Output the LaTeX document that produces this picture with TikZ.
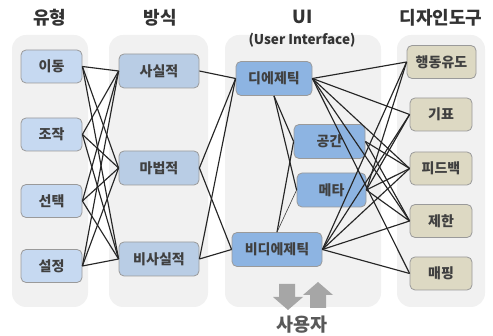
\documentclass[tikz,border=0pt]{standalone}
\usepackage{fontspec}
\setmainfont{Noto Sans CJK KR}
\definecolor{panel}{HTML}{F1F1F1}
\definecolor{typefill}{HTML}{C6D9F1}
\definecolor{wayfill}{HTML}{B9CDE5}
\definecolor{uifill}{HTML}{8DB4E2}
\definecolor{toolfill}{HTML}{DDD9C3}
\definecolor{edgegray}{HTML}{9A9A9A}
\definecolor{txt}{HTML}{404040}
\definecolor{ttl}{HTML}{333333}
\definecolor{usertxt}{HTML}{595959}
\definecolor{arrowgray}{HTML}{A6A6A6}
\tikzset{
  panelbox/.style={fill=panel, draw=none, rounded corners=14pt},
  box/.style={draw=edgegray, line width=0.8pt, rounded corners=5pt, inner sep=0pt,
    text=txt, font=\fontsize{14}{14}\selectfont\bfseries},
  typebox/.style={box, fill=typefill, minimum width=61pt, minimum height=33pt},
  waybox/.style={box, fill=wayfill, minimum width=80pt, minimum height=34pt},
  uibox/.style={box, fill=uifill, minimum height=34pt},
  toolbox/.style={box, fill=toolfill, minimum width=62pt, minimum height=33pt},
  title/.style={text=ttl, font=\fontsize{18}{18}\selectfont\bfseries, inner sep=0pt},
  link/.style={draw=black!85, line width=1.15pt},
  thinlink/.style={draw=black!75, line width=0.6pt},
  userarrow/.style={fill=arrowgray, draw=none}
}
\begin{document}
\begin{tikzpicture}[x=1pt, y=-1pt]
\useasboundingbox (0,0) rectangle (493,336);

% column panels
\fill[panelbox] (12,35) rectangle (88,307);
\fill[panelbox] (109,35) rectangle (208,307);
\fill[panelbox] (225,35) rectangle (381,307);
\fill[panelbox] (397,35) rectangle (485,307);

% column headings
\node[title] (h1) at (50,18) {유형};
\node[title] (h2) at (160,18) {방식};
\node[title] (h3) at (303,17) {UI};
\node[text=ttl, font=\fontsize{13.5}{13.5}\selectfont\bfseries, inner sep=0pt] (h3b) at (302,40) {(User Interface)};
\node[title] (h4) at (441,18) {디자인도구};

% interaction types
\node[typebox] (t1) at (51.5,66.5) {이동};
\node[typebox] (t2) at (51.5,134.5) {조작};
\node[typebox] (t3) at (51.5,201) {선택};
\node[typebox] (t4) at (51.5,266) {설정};

% ways
\node[waybox] (w1) at (159,71) {사실적};
\node[waybox] (w2) at (159,168) {마법적};
\node[waybox] (w3) at (159,259) {비사실적};

% UI kinds
\node[uibox, minimum width=76pt] (u1) at (274,78.5) {디에제틱};
\node[uibox, minimum width=71pt] (u2) at (329.5,141.5) {공간};
\node[uibox, minimum width=69pt] (u3) at (331.5,190) {메타};
\node[uibox, minimum width=90pt] (u4) at (277,249.5) {비디에제틱};

% design tools
\node[toolbox, minimum width=69pt] (d1) at (441.5,62) {행동유도};
\node[toolbox] (d2) at (441,114.5) {기표};
\node[toolbox] (d3) at (441,168.5) {피드백};
\node[toolbox] (d4) at (441,221) {제한};
\node[toolbox] (d5) at (441,273.5) {매핑};

% type -> way
\foreach \t in {t1,t2,t3,t4}
  \foreach \w in {w1,w2,w3}
    \draw[link] (\t.east) -- (\w.west);

% way -> UI
\draw[link] (w1.east) -- (u1.west);
\draw[link] (w2.east) -- (u1.west);
\draw[link] (w2.east) -- (u4.west);
\draw[link] (w3.east) -- (u1.west);
\draw[link] (w3.east) -- (u4.west);

% inside the UI column
\draw[link] (u1.south) -- (u2.west);
\draw[link] (u1.south) -- (u3.west);
\draw[link] (u4.north) -- (u2.west);
\draw[thinlink] (u4.north) -- (u3.west);

% UI -> design tools
\foreach \d in {d1,d2,d3,d4,d5} {
  \draw[link] (u1.east) -- (\d.west);
  \draw[link] (u4.east) -- (\d.west);
}
\draw[link] (u2.east) -- (d3.west);
\draw[link] (u2.east) -- (d4.west);
\foreach \d in {d1,d2,d3,d4}
  \draw[link] (u3.east) -- (\d.west);

% user feedback arrows: down (to the user) and up (from the user)
\fill[userarrow] (279,284) -- (295,284) -- (295,297) -- (303,297) -- (288,310)
  -- (273,297) -- (279,297) -- cycle;
\fill[userarrow] (310,308) -- (326,308) -- (326,295) -- (333,295) -- (318,282)
  -- (303,295) -- (310,295) -- cycle;
\node[text=usertxt, font=\fontsize{18.5}{18.5}\selectfont\bfseries, inner sep=0pt] (user) at (302,325) {사용자};
\end{tikzpicture}
\end{document}
